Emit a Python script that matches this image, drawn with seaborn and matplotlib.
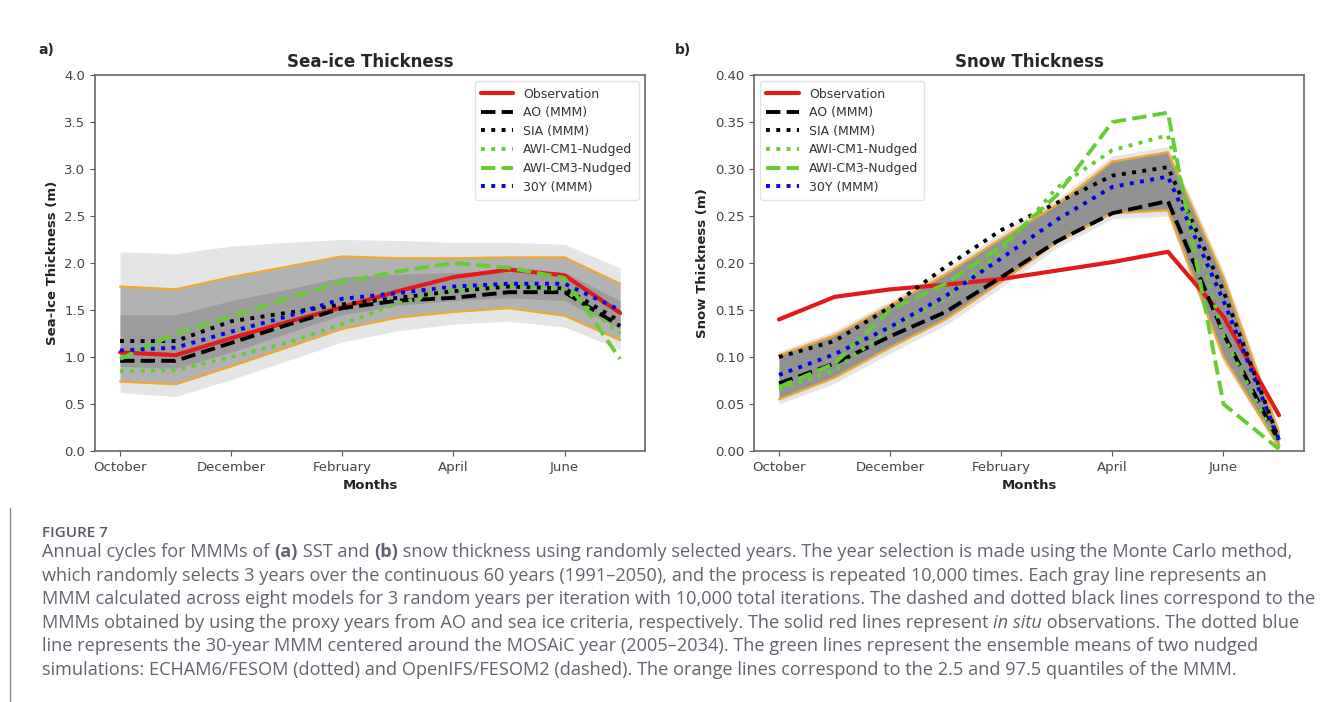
import numpy as np
import pandas as pd
import matplotlib
matplotlib.use("Agg")
import matplotlib.pyplot as plt
import seaborn as sns

months = ["October", "November", "December", "January", "February",
          "March", "April", "May", "June", "July"]
tick_labels = ["October", "December", "February", "April", "June"]

# (a) sea-ice thickness (m), Oct..Jul
ice_obs = [1.05, 1.02, 1.20, 1.37, 1.53, 1.70, 1.85, 1.93, 1.87, 1.47]
ice_ao = [0.96, 0.96, 1.15, 1.34, 1.52, 1.60, 1.63, 1.69, 1.69, 1.33]
ice_sia = [1.17, 1.17, 1.38, 1.47, 1.56, 1.63, 1.70, 1.75, 1.73, 1.38]
ice_cm1 = [0.85, 0.86, 1.00, 1.15, 1.35, 1.57, 1.72, 1.76, 1.72, 1.25]
ice_cm3 = [0.98, 1.25, 1.43, 1.62, 1.80, 1.91, 2.00, 1.95, 1.84, 0.98]
ice_30y = [1.07, 1.10, 1.27, 1.43, 1.62, 1.68, 1.75, 1.78, 1.78, 1.50]
ice_q975 = [1.75, 1.72, 1.85, 1.96, 2.07, 2.05, 2.05, 2.06, 2.06, 1.78]
ice_q025 = [0.74, 0.71, 0.90, 1.10, 1.30, 1.42, 1.48, 1.52, 1.44, 1.18]
# spread of the gray Monte Carlo lines
ice_max = [2.12, 2.10, 2.18, 2.22, 2.25, 2.24, 2.22, 2.22, 2.20, 1.95]
ice_min = [0.62, 0.58, 0.76, 0.96, 1.16, 1.28, 1.35, 1.38, 1.32, 1.08]
ice_core_hi = [1.45, 1.45, 1.60, 1.72, 1.85, 1.88, 1.90, 1.92, 1.90, 1.60]
ice_core_lo = [0.90, 0.88, 1.05, 1.25, 1.45, 1.55, 1.60, 1.63, 1.60, 1.30]

# (b) snow thickness (m), Oct..Jul
snow_obs = [0.140, 0.164, 0.172, 0.177, 0.183, 0.192, 0.201, 0.212, 0.143, 0.038]
snow_ao = [0.072, 0.093, 0.122, 0.148, 0.185, 0.223, 0.253, 0.266, 0.125, 0.010]
snow_sia = [0.100, 0.117, 0.153, 0.196, 0.235, 0.264, 0.293, 0.302, 0.170, 0.012]
snow_cm1 = [0.065, 0.086, 0.130, 0.162, 0.212, 0.280, 0.320, 0.336, 0.122, 0.005]
snow_cm3 = [0.068, 0.093, 0.150, 0.178, 0.218, 0.272, 0.350, 0.360, 0.050, 0.002]
snow_30y = [0.081, 0.103, 0.132, 0.165, 0.205, 0.246, 0.281, 0.292, 0.160, 0.012]
snow_q975 = [0.102, 0.123, 0.155, 0.188, 0.226, 0.262, 0.308, 0.318, 0.185, 0.020]
snow_q025 = [0.055, 0.078, 0.110, 0.140, 0.180, 0.222, 0.253, 0.256, 0.100, 0.004]
snow_max = [0.106, 0.128, 0.160, 0.194, 0.232, 0.268, 0.314, 0.324, 0.192, 0.024]
snow_min = [0.050, 0.072, 0.104, 0.134, 0.174, 0.216, 0.247, 0.250, 0.094, 0.002]

labels = ["Observation", "AO (MMM)", "SIA (MMM)", "AWI-CM1-Nudged",
          "AWI-CM3-Nudged", "30Y (MMM)"]
styles = {
    "Observation": ("#e31a1c", "-", 3.0),
    "AO (MMM)": ("black", "--", 2.8),
    "SIA (MMM)": ("black", ":", 2.8),
    "AWI-CM1-Nudged": ("#66cc33", ":", 2.8),
    "AWI-CM3-Nudged": ("#66cc33", "--", 2.8),
    "30Y (MMM)": ("#0000ee", ":", 2.8),
}

sns.set_style("ticks")
plt.rcParams["font.family"] = ["DejaVu Sans"]

fig = plt.figure(figsize=(13.2, 7.02), dpi=100)
ax_a = fig.add_axes([0.072, 0.3575, 0.4167, 0.5356])
ax_b = fig.add_axes([0.5712, 0.3575, 0.4167, 0.5356])


def draw_panel(ax, series, q_lo, q_hi, env_lo, env_hi, core, band_color, ylim,
               ystep, fmt, title, ylabel, loc):
    x = np.arange(len(months))
    ax.fill_between(x, env_lo, env_hi, color="#d0d0d0", alpha=0.55, lw=0, zorder=1)
    ax.fill_between(x, q_lo, q_hi, color=band_color, lw=0, zorder=1)
    if core is not None:
        ax.fill_between(x, core[0], core[1], color="#8e8e8e", alpha=0.6, lw=0,
                        zorder=1)
    for q in (q_lo, q_hi):
        sns.lineplot(x=x, y=q, ax=ax, color="#f0a830", lw=1.6, zorder=2)
    for name, vals in zip(labels, series):
        c, ls, lw = styles[name]
        df = pd.DataFrame({"month": x, "value": vals})
        sns.lineplot(data=df, x="month", y="value", ax=ax, color=c, ls=ls,
                     lw=lw, label=name, zorder=3)
    ax.set_ylim(*ylim)
    ax.set_yticks(np.arange(ylim[0], ylim[1] + ystep / 2, ystep))
    ax.yaxis.set_major_formatter(plt.FormatStrFormatter(fmt))
    ax.set_xticks(x[::2])
    ax.set_xticklabels(tick_labels)
    ax.set_title(title, fontsize=12, fontweight="bold", pad=6)
    ax.set_xlabel("Months", fontsize=9.5, fontweight="bold", color="#222222")
    ax.set_ylabel(ylabel, fontsize=9.5, fontweight="bold", color="#222222")
    ax.tick_params(labelsize=9.5, colors="#555555", labelcolor="#444444")
    for s in ax.spines.values():
        s.set_color("#666666")
        s.set_linewidth(1.2)
    leg = ax.legend(loc=loc, fontsize=9, frameon=True, handlelength=2.6,
                    labelspacing=0.45, borderpad=0.5)
    leg.get_frame().set_edgecolor("#dddddd")
    for t in leg.get_texts():
        t.set_color("#333333")


draw_panel(ax_a, [ice_obs, ice_ao, ice_sia, ice_cm1, ice_cm3, ice_30y],
           ice_q025, ice_q975, ice_min, ice_max, (ice_core_lo, ice_core_hi),
           "#b2b2b2", (0, 4.0), 0.5, "%.1f", "Sea-ice Thickness",
           "Sea-Ice Thickness (m)", "upper right")
draw_panel(ax_b, [snow_obs, snow_ao, snow_sia, snow_cm1, snow_cm3, snow_30y],
           snow_q025, snow_q975, snow_min, snow_max, None, "#929292",
           (0, 0.40), 0.05, "%.2f", "Snow Thickness", "Snow Thickness (m)",
           "upper left")

fig.text(38 / 1320, 1 - 50 / 702, "a)", fontsize=10, fontweight="bold", va="center")
fig.text(675 / 1320, 1 - 50 / 702, "b)", fontsize=10, fontweight="bold", va="center")

# caption
cap_color = "#5f6472"
cap_font = "Open Sans"
cap_size = 13.1
fig.text(42 / 1320, 1 - 533 / 702, "FIGURE 7", fontsize=11, color="#555a66",
         family=cap_font, fontweight="semibold", va="center")

caption = [
    [("Annual cycles for MMMs of ", "normal", "normal"), ("(a)", "bold", "normal"),
     (" SST and ", "normal", "normal"), ("(b)", "bold", "normal"),
     (" snow thickness using randomly selected years. The year selection is made using the Monte Carlo method,", "normal", "normal")],
    [("which randomly selects 3 years over the continuous 60 years (1991\u20132050), and the process is repeated 10,000 times. Each gray line represents an", "normal", "normal")],
    [("MMM calculated across eight models for 3 random years per iteration with 10,000 total iterations. The dashed and dotted black lines correspond to the", "normal", "normal")],
    [("MMMs obtained by using the proxy years from AO and sea ice criteria, respectively. The solid red lines represent ", "normal", "normal"),
     ("in situ", "normal", "italic"), (" observations. The dotted blue", "normal", "normal")],
    [("line represents the 30-year MMM centered around the MOSAiC year (2005\u20132034). The green lines represent the ensemble means of two nudged", "normal", "normal")],
    [("simulations: ECHAM6/FESOM (dotted) and OpenIFS/FESOM2 (dashed). The orange lines correspond to the 2.5 and 97.5 quantiles of the MMM.", "normal", "normal")],
]

renderer = fig.canvas.get_renderer()
y0 = 552
for i, line in enumerate(caption):
    xpix = 42
    ypix = y0 + i * 23.6
    for txt, weight, style in line:
        t = fig.text(xpix / 1320, 1 - ypix / 702, txt, fontsize=cap_size,
                     color=cap_color, family=cap_font, fontweight=weight,
                     fontstyle=style, va="center")
        bb = t.get_window_extent(renderer=renderer)
        xpix += bb.width

fig.add_artist(plt.Line2D([10 / 1320, 10 / 1320], [0, 1 - 508 / 702],
                          transform=fig.transFigure, color="#888888", lw=1))

fig.savefig("out.png", dpi=100)
